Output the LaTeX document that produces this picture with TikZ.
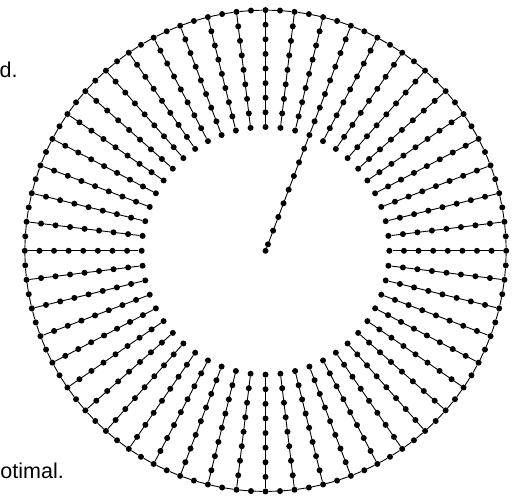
\documentclass[tikz,border=0pt]{standalone}
\usepackage{fontspec}
\setmainfont{Liberation Sans}
\usetikzlibrary{backgrounds}

\begin{document}
\begin{tikzpicture}[x=1pt,y=1pt,
 v/.style={circle,fill=black,inner sep=0pt,minimum size=6pt},
 e/.style={line width=0.9pt},
 lbl/.style={font=\fontsize{21.5}{25}\selectfont,inner sep=0pt,anchor=base west}]
 \useasboundingbox (0,0) rectangle (519,495);
 % spokes and the rim between them
 \foreach \i in {0,...,51} {
  \pgfmathsetmacro\ang{90-\i*(360/52)}
  \foreach \k in {0,...,8} {
   \pgfmathsetmacro\rad{240.7-14.61*\k}
   \node[v] (s\i-\k) at ({265.5+\rad*cos(\ang)},{244.2+\rad*sin(\ang)}) {};
  }
  \node[v] (m\i) at ({265.5+240.7*cos(\ang-180/52)},{244.2+240.7*sin(\ang-180/52)}) {};
 }
 % the one spoke that runs on to the middle
 \pgfmathsetmacro\ang{90-3*(360/52)}
 \foreach \k in {9,...,16} {
  \pgfmathsetmacro\rad{240.7-14.61*\k}
  \node[v] (c\k) at ({265.5+\rad*cos(\ang)},{244.2+\rad*sin(\ang)}) {};
 }
 \node[v] (c) at (265.5,244.2) {};
 \begin{pgfonlayer}{background}
  \foreach \i in {0,...,51} {
   \pgfmathtruncatemacro\j{mod(\i+1,52)}
   \draw[e] (s\i-0) -- (m\i) -- (s\j-0);
   \draw[e] (s\i-0) \foreach \k in {1,...,8} {-- (s\i-\k)};
  }
  \draw[e] (s3-8) \foreach \k in {9,...,16} {-- (c\k)} -- (c);
 \end{pgfonlayer}
 \node[lbl] (t1) at (-0.5,417) {d.};
 \node[lbl] (t2) at (0.3,16.7) {otimal.};
\end{tikzpicture}
\end{document}
